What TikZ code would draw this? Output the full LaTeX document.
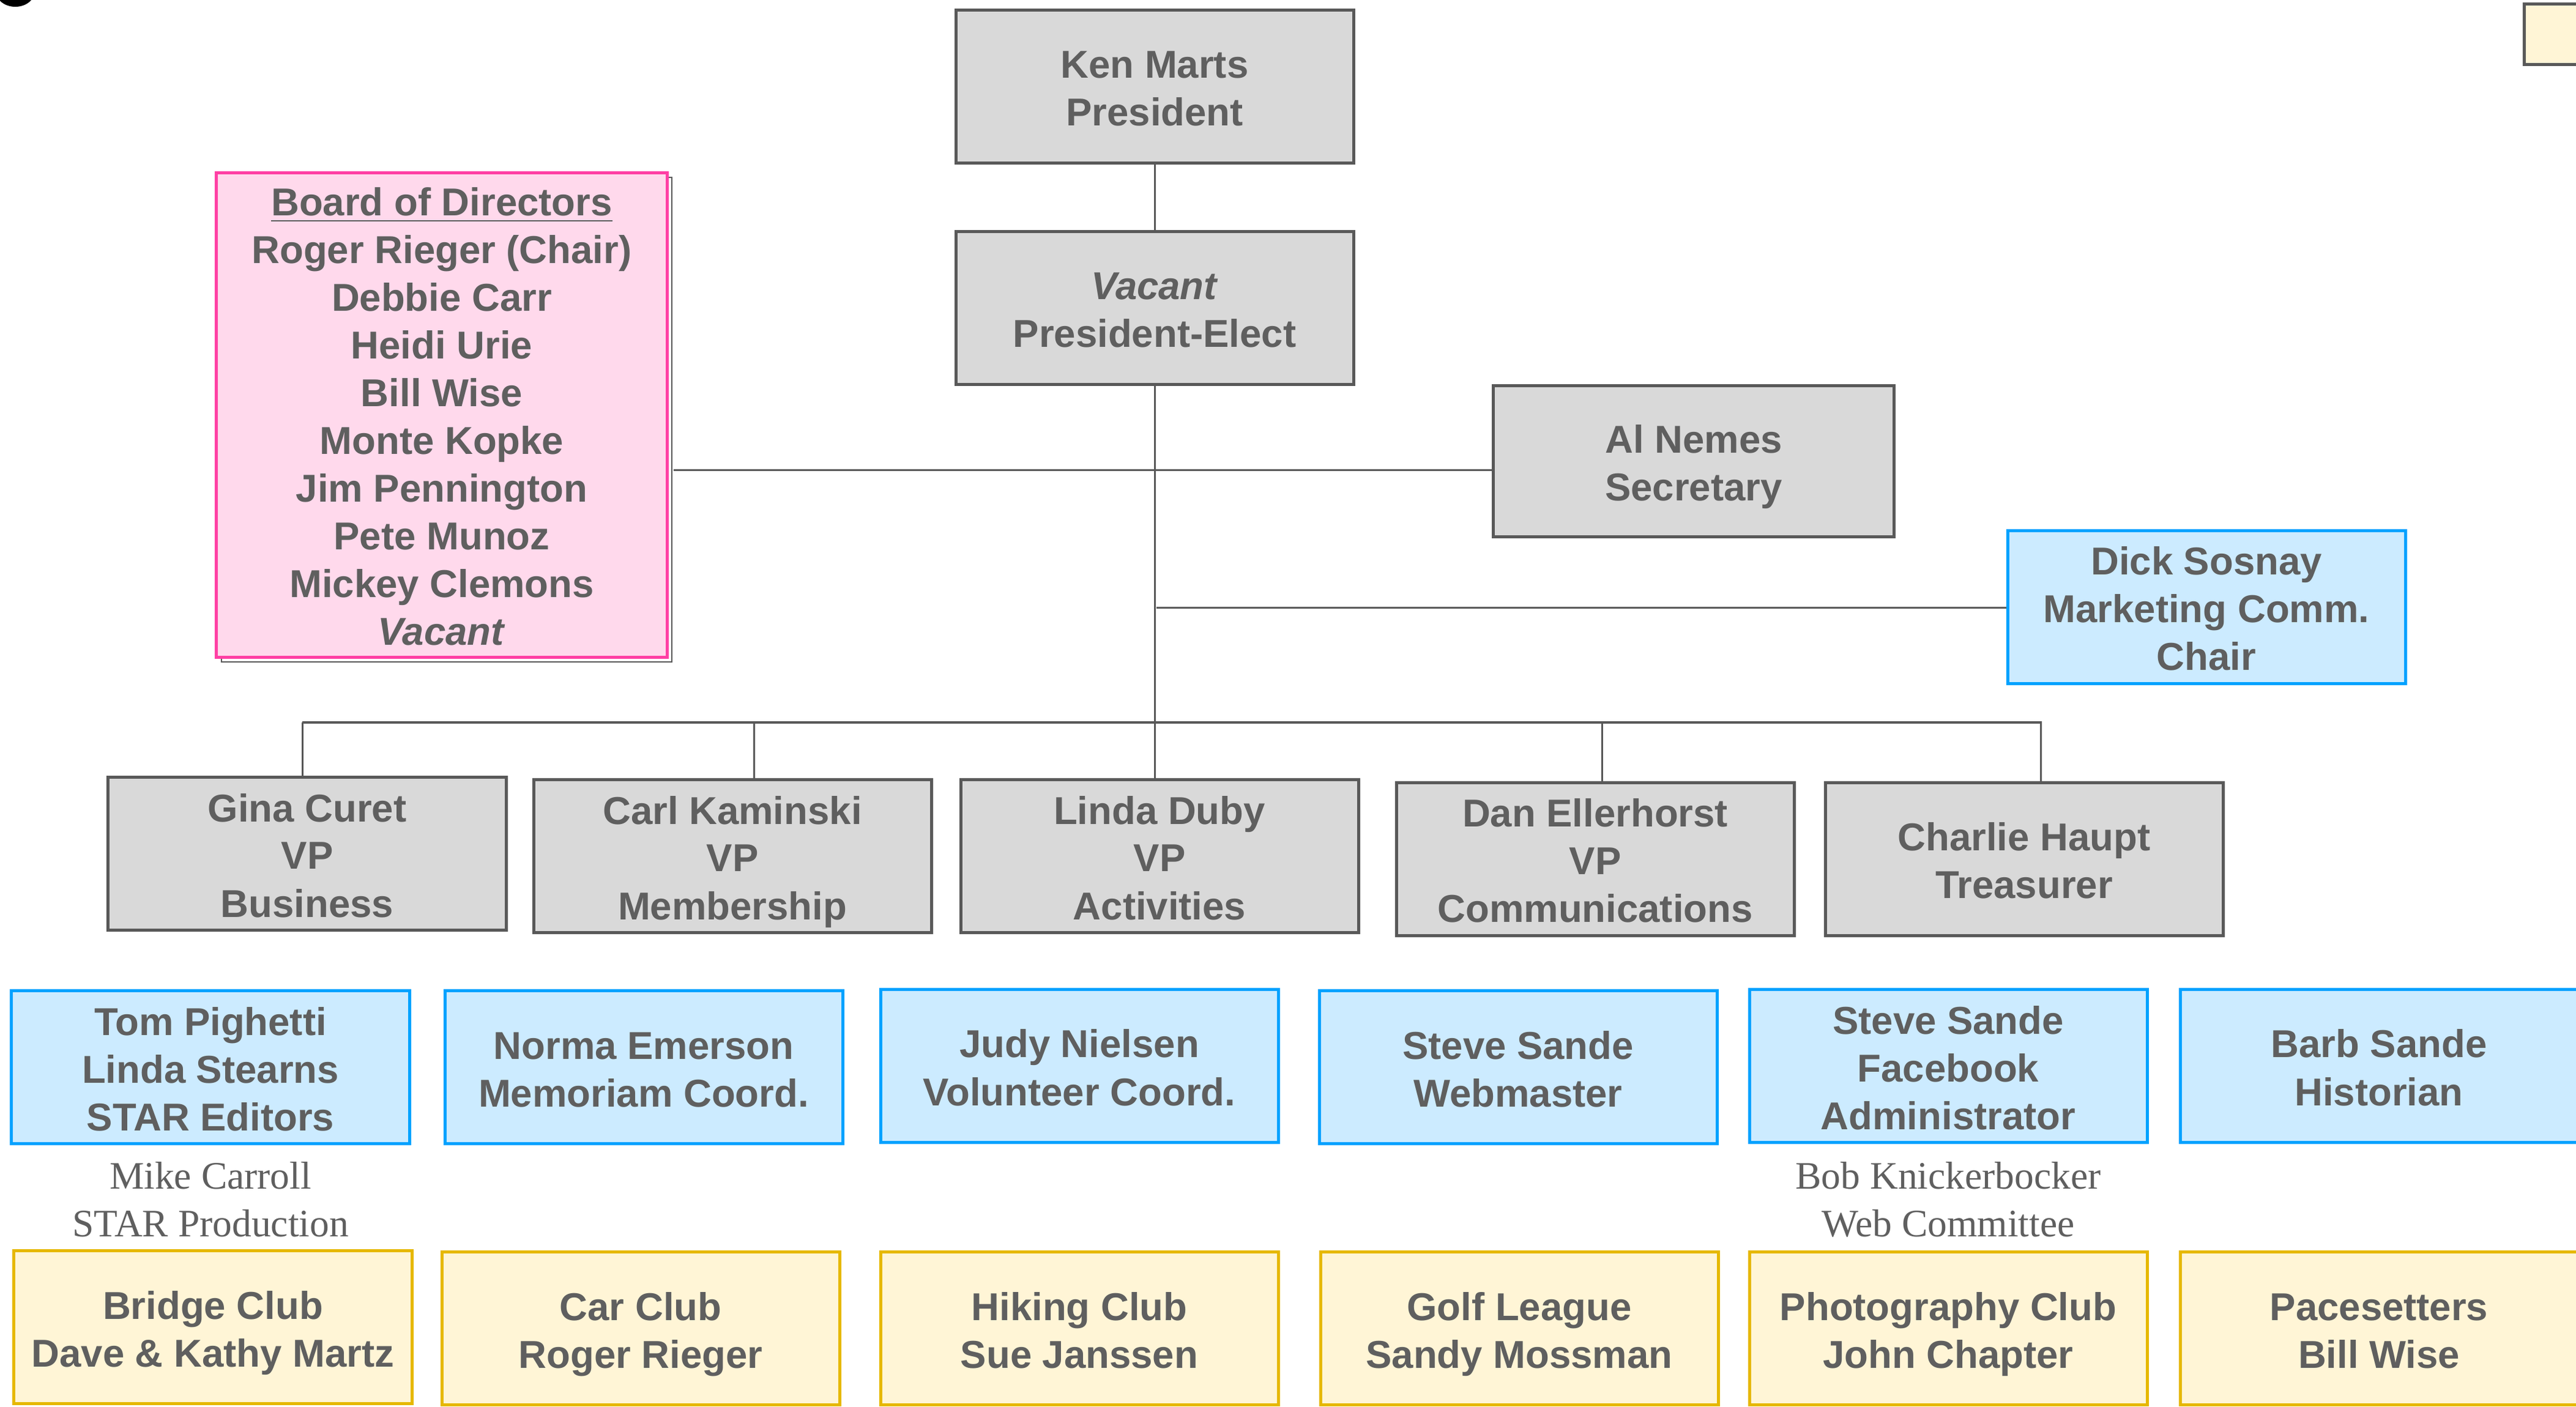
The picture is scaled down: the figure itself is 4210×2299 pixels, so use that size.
\documentclass[tikz,border=0pt]{standalone}
\usepackage{fontspec}
\setmainfont{Liberation Sans}
\newfontfamily\serifnames{Liberation Serif}
\definecolor{txt}{HTML}{5F5F5F}
\definecolor{lineg}{HTML}{595959}
\definecolor{grayfill}{HTML}{D9D9D9}
\definecolor{bluefill}{HTML}{CCEBFF}
\definecolor{blueline}{HTML}{00A2FF}
\definecolor{yelfill}{HTML}{FFF5D6}
\definecolor{yelline}{HTML}{E6B800}
\definecolor{pinkfill}{HTML}{FFD9EC}
\definecolor{pinkline}{HTML}{FF3FA4}
\newcommand\ts{\rule{0pt}{13.08pt}}
\newcommand\bs{\rule[-2.7pt]{0pt}{2.7pt}}
\tikzset{
  basebox/.style={line width=1pt, minimum width=130pt, minimum height=50pt,
    inner sep=0pt, align=center, text=txt,
    font=\bfseries\fontsize{12.7pt}{15.6pt}\selectfont},
  gbox/.style={basebox, draw=lineg, fill=grayfill},
  bbox/.style={basebox, draw=blueline, fill=bluefill},
  ybox/.style={basebox, draw=yelline, fill=yelfill},
  pbox/.style={basebox, draw=pinkline, fill=pinkfill},
  note/.style={align=center, text=txt, inner sep=0pt,
    font=\serifnames\fontsize{12.7pt}{15.6pt}\selectfont},
  conn/.style={draw=lineg, line width=0.6pt},
  busline/.style={draw=lineg, line width=0.9pt}
}
\begin{document}
\begin{tikzpicture}[x=0.2pt,y=-0.2pt]
\useasboundingbox (0,0) rectangle (4210,2299);
\clip (0,0) rectangle (4210,2299);
\fill[white] (0,0) rectangle (4210,2299);
% partial decorations at the edges
\fill[black] (25,-15) ellipse (32 and 26);
\draw[fill=yelfill, draw=lineg, line width=1pt] (4125,6) rectangle (4320,105);

% top
\node[gbox] (ken) at (1887,141) {\ts Ken Marts\\President\bs};
\node[gbox] (pe) at (1887,503) {\ts\textit{Vacant}\\President-Elect\bs};

% board with shadow
\draw[fill=white, draw=lineg, line width=0.5pt] (362,290) rectangle (1098,1082);
\node[pbox, minimum width=147.2pt, minimum height=158.4pt] (board) at (722,678)
  {\ts\underline{Board of Directors}\\Roger Rieger (Chair)\\Debbie Carr\\Heidi Urie\\Bill Wise\\Monte Kopke\\Jim Pennington\\Pete Munoz\\Mickey Clemons\\\textit{Vacant}\bs};

\node[gbox, minimum width=131pt, minimum height=49.4pt] (al) at (2768,754) {\ts Al Nemes\\Secretary\bs};
\node[bbox] (dick) at (3606,992) {\ts Dick Sosnay\\Marketing Comm.\\Chair\bs};

% VPs
\node[gbox] (gina) at (502,1395) {\ts Gina Curet\\VP\\Business\bs};
\node[gbox] (carl) at (1197,1399) {\ts Carl Kaminski\\VP\\Membership\bs};
\node[gbox] (linda) at (1895,1399) {\ts Linda Duby\\VP\\Activities\bs};
\node[gbox] (dan) at (2607,1404) {\ts Dan Ellerhorst\\VP\\Communications\bs};
\node[gbox] (charlie) at (3308,1404) {\ts Charlie Haupt\\Treasurer\bs};

% blue row
\node[bbox] (tom) at (344,1744) {\ts Tom Pighetti\\Linda Stearns\\STAR Editors\bs};
\node[bbox] (norma) at (1052,1744) {\ts Norma Emerson\\Memoriam Coord.\bs};
\node[bbox] (judy) at (1764,1742) {\ts Judy Nielsen\\Volunteer Coord.\bs};
\node[bbox] (stevew) at (2481,1744) {\ts Steve Sande\\Webmaster\bs};
\node[bbox] (stevef) at (3184,1742) {\ts Steve Sande\\Facebook\\Administrator\bs};
\node[bbox] (barb) at (3888,1742) {\ts Barb Sande\\Historian\bs};

% notes
\node[note] (mike) at (344,1961) {Mike Carroll\\STAR Production};
\node[note] (bob) at (3184,1961) {Bob Knickerbocker\\Web Committee};

% yellow row
\node[ybox] (bridge) at (348,2169) {\ts Bridge Club\\Dave \& Kathy Martz\bs};
\node[ybox] (car) at (1047,2171) {\ts Car Club\\Roger Rieger\bs};
\node[ybox] (hiking) at (1764,2171) {\ts Hiking Club\\Sue Janssen\bs};
\node[ybox] (golf) at (2483,2171) {\ts Golf League\\Sandy Mossman\bs};
\node[ybox] (photo) at (3184,2171) {\ts Photography Club\\John Chapter\bs};
\node[ybox] (pace) at (3888,2171) {\ts Pacesetters\\Bill Wise\bs};

% connectors
\coordinate (j1) at (1890,768);
\coordinate (j2) at (1890,993);
\coordinate (busL) at (494,1181);
\coordinate (busR) at (3337,1181);
\coordinate (dG) at (494,1181);
\coordinate (dC) at (1232,1181);
\coordinate (dD) at (2618,1181);
\coordinate (dH) at (3335,1181);

\draw[conn] (ken.south) -- (pe.north);
\draw[conn] (pe.south) -- (pe.south |- linda.north);
\draw[conn] (board.east |- j1) ++(8,0) -- (j1) -- (j1 -| al.west);
\draw[conn] (j2) -- (j2 -| dick.west);
\draw[busline] (busL) -- (busR);
\draw[conn] (dG) -- (dG |- gina.north);
\draw[conn] (dC) -- (dC |- carl.north);
\draw[conn] (dD) -- (dD |- dan.north);
\draw[conn] (dH) -- (dH |- charlie.north);
\end{tikzpicture}
\end{document}
